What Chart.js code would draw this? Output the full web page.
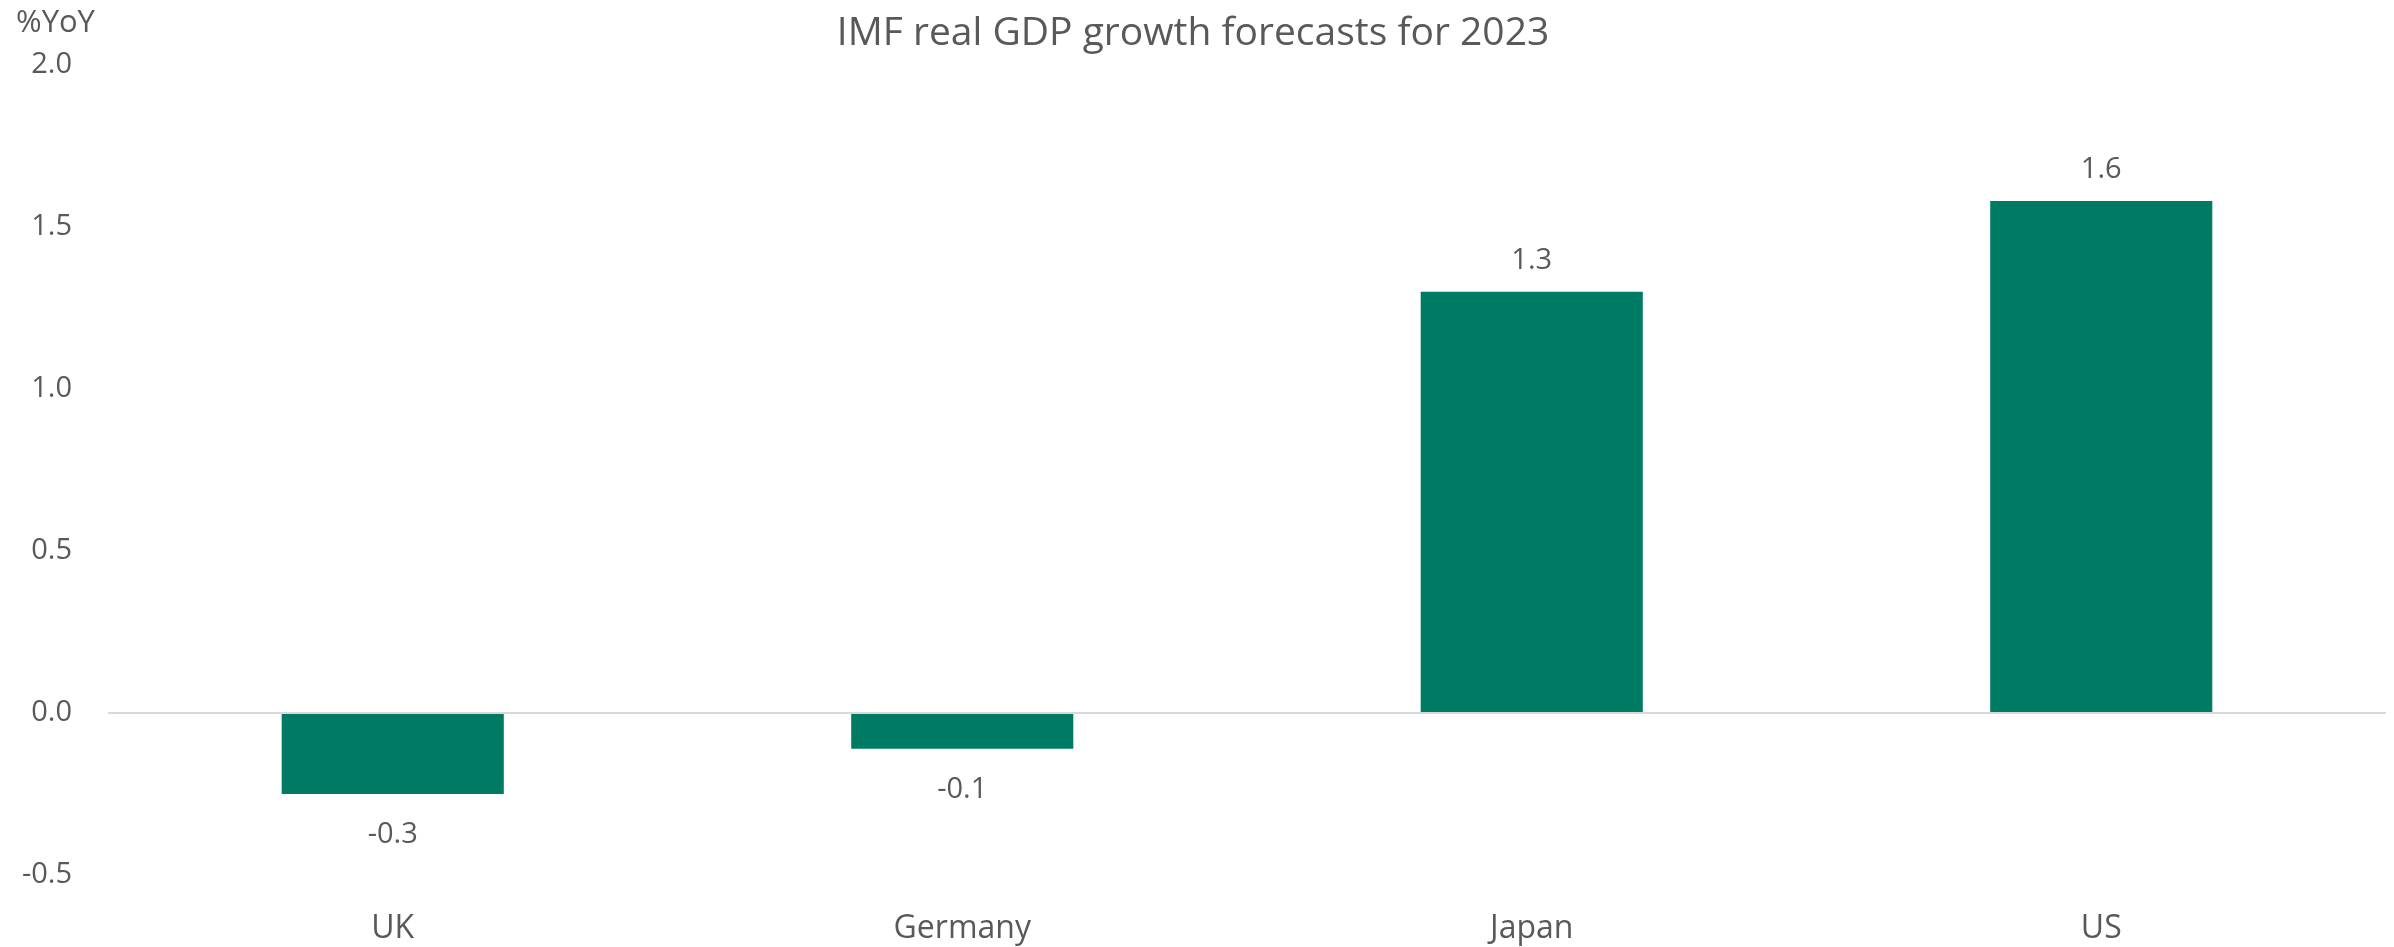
<!DOCTYPE html>
<html>
<head>
<meta charset="utf-8">
<script src="https://cdn.jsdelivr.net/npm/chart.js@4"></script>
<style>
  html, body { margin: 0; padding: 0; background: #ffffff; }
  #wrap { width: 2394px; height: 947px; }
</style>
</head>
<body>
<div id="wrap"><canvas id="gdpChart" width="2394" height="947"></canvas></div>
<script>
const countries = ['UK', 'Germany', 'Japan', 'US'];
const growth2023 = [-0.25, -0.11, 1.30, 1.58];
const yTicks = [-0.5, 0.0, 0.5, 1.0, 1.5, 2.0];

const textColor = '#595959';
const fontFamily = "'Open Sans', 'Noto Sans', sans-serif";

// value labels outside the bar ends, like the Excel original
const barLabels = {
  id: 'barLabels',
  afterDatasetsDraw(chart) {
    const ctx = chart.ctx;
    const meta = chart.getDatasetMeta(0);
    ctx.save();
    ctx.fillStyle = textColor;
    ctx.font = '29px ' + fontFamily;
    ctx.textAlign = 'center';
    ctx.textBaseline = 'middle';
    meta.data.forEach((bar, i) => {
      const v = growth2023[i];
      const y = v >= 0 ? bar.y - 31 : bar.y + 41;
      ctx.fillText(v.toFixed(1), bar.x, y);
    });
    ctx.restore();
  }
};

// unit label above the y axis
const unitLabel = {
  id: 'unitLabel',
  afterDraw(chart) {
    const ctx = chart.ctx;
    ctx.save();
    ctx.fillStyle = textColor;
    ctx.font = '31px ' + fontFamily;
    ctx.textAlign = 'left';
    ctx.textBaseline = 'middle';
    ctx.fillText('%YoY', 16, 23);
    ctx.restore();
  }
};

const data = {
  labels: countries,
  datasets: [
    {
      label: 'Real GDP growth 2023',
      data: growth2023,
      backgroundColor: '#007b63',
      borderColor: '#007b63',
      borderWidth: 0,
      barPercentage: 0.39,
      categoryPercentage: 1.0,
    }
  ]
};

const config = {
  type: 'bar',
  data: data,
  options: {
    responsive: false,
    animation: false,
    layout: {
      padding: { top: 0, right: 8, bottom: 0, left: 0 }
    },
    plugins: {
      legend: { display: false },
      tooltip: { enabled: false },
      title: {
        display: true,
        text: 'IMF real GDP growth forecasts for 2023',
        color: textColor,
        font: { size: 39, weight: 'normal', family: fontFamily, lineHeight: 1.2 },
        padding: { top: 10.6, bottom: 7.6 }
      }
    },
    scales: {
      x: {
        grid: { display: false, drawTicks: false },
        border: { display: false },
        ticks: {
          color: textColor,
          padding: 35,
          font: { size: 32, family: fontFamily },
        },
        afterFit: (scale) => { scale.height = 72; }
      },
      y: {
        min: -0.5,
        max: 2.0,
        afterBuildTicks: (scale) => {
          scale.ticks = yTicks.map(v => ({ value: v }));
        },
        grid: {
          drawTicks: false,
          lineWidth: 2,
          color: (c) => (c.tick && c.tick.value === 0 ? '#d9d9d9' : 'rgba(0,0,0,0)')
        },
        border: { display: false },
        ticks: {
          color: textColor,
          padding: 36,
          font: { size: 29, family: fontFamily },
          callback: (value) => Number(value).toFixed(1)
        },
        afterFit: (scale) => { scale.width = 108; }
      }
    }
  },
  plugins: [barLabels, unitLabel]
};

new Chart(document.getElementById('gdpChart').getContext('2d'), config);
</script>
</body>
</html>
